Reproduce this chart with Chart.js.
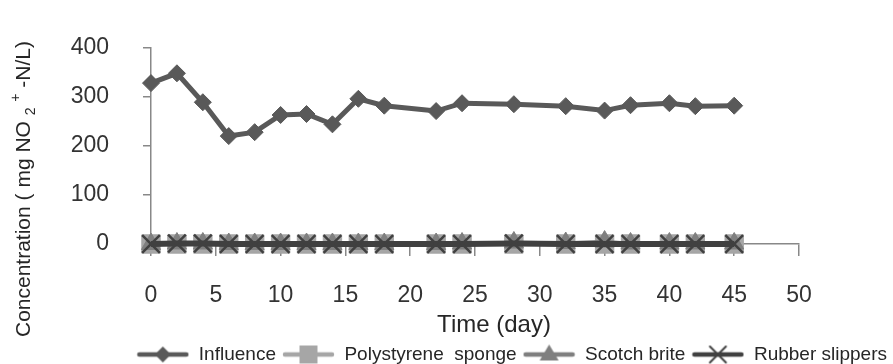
<!DOCTYPE html>
<html><head><meta charset="utf-8">
<script src="https://cdn.jsdelivr.net/npm/chart.js@4.4.1/dist/chart.umd.min.js"></script>
<style>html,body{margin:0;padding:0;background:#fff;} canvas{display:block;}</style>
</head><body>
<canvas id="c" width="893" height="364"></canvas>
<script>
// ---- data ----
const days = [0,2,4,6,8,10,12,14,16,18,22,24,28,32,35,37,40,42,45];
const influence      = [328,348,289,220,228,263,265,244,296,282,271,287,285,281,272,283,287,281,282];
const polystyrene    = [0,0,0,0,0,0,0,0,0,0,0,0,0,0,0,0,0,0,0];
const scotchBrite    = [0,1,1,0,0,0,0,0,0,0,0,1,3,2,5,1,1,1,1];
const rubberSlippers = [0,1,1,0,0,0,0,0,0,0,0,0,1,0,0,0,0,0,0];
const seriesNames = ['Influence','Polystyrene  sponge','Scotch brite','Rubber slippers'];
const xTicks = [0,5,10,15,20,25,30,35,40,45,50];
const yTicks = [0,100,200,300,400];
const xTitle = 'Time (day)';
const yTitleParts = ['Concentration ( mg NO ', '2', ' ', '+', ' -N/L)'];

const FAMILY = '"Liberation Sans", Arial, sans-serif';
Chart.defaults.font.family = FAMILY;

const colors = ['#595959','#a6a6a6','#7f7f7f','#404040'];
const lineWidths = [5, 3.5, 3.5, 6];

function pts(vals){ return days.map((d,i)=>({x:d, y:vals[i]})); }

// legend sample images (line + marker)
function marker(g, style, x, y, r, color, lw){
  g.fillStyle = color; g.strokeStyle = color; g.lineWidth = lw;
  g.beginPath();
  if (style==='diamond'){ g.moveTo(x-r,y); g.lineTo(x,y-r); g.lineTo(x+r,y); g.lineTo(x,y+r); g.closePath(); g.fill(); }
  else if (style==='square'){ g.rect(x-r,y-r,2*r,2*r); g.fill(); }
  else if (style==='triangle'){ g.moveTo(x,y-r); g.lineTo(x+r*0.95,y+r*0.6); g.lineTo(x-r*0.95,y+r*0.6); g.closePath(); g.fill(); }
  else if (style==='x'){ g.moveTo(x-r,y-r); g.lineTo(x+r,y+r); g.moveTo(x+r,y-r); g.lineTo(x-r,y+r); g.stroke(); }
}
function legendImg(i, style, r){
  const W=53, H=24, c=document.createElement('canvas'); c.width=W; c.height=H;
  const g=c.getContext('2d');
  g.strokeStyle=colors[i]; g.lineWidth=4.5; g.lineCap='round';
  g.beginPath(); g.moveTo(3,H/2); g.lineTo(W-3,H/2); g.stroke();
  marker(g, style, W/2, H/2, r, colors[i], 2);
  return c;
}
const legendImages = [legendImg(0,'diamond',8), legendImg(1,'square',9), legendImg(2,'triangle',10), legendImg(3,'x',8)];

const titlePlugin = {
  id: 'axisTitles',
  afterDraw(chart){
    const ctx = chart.ctx, a = chart.chartArea;
    ctx.save();
    ctx.fillStyle = '#262626';
    ctx.font = '24px ' + FAMILY;
    ctx.textAlign = 'center'; ctx.textBaseline = 'alphabetic';
    ctx.fillText(xTitle, (a.left + a.right)/2 + 19, 332);
    // rotated y title with sub/superscript
    const main = '21px ' + FAMILY, small = '14px ' + FAMILY;
    const fonts = [main, small, main, small, main];
    const dys = [0, 5, 0, -10, 0];
    let total = 0; const ws = [];
    yTitleParts.forEach((t,k)=>{ ctx.font = fonts[k]; const w = ctx.measureText(t).width; ws.push(w); total += w; });
    ctx.translate(30, 189); ctx.rotate(-Math.PI/2);
    ctx.textAlign = 'left';
    let x = -total/2;
    yTitleParts.forEach((t,k)=>{ ctx.font = fonts[k]; ctx.fillText(t, x, dys[k]); x += ws[k]; });
    ctx.restore();
  }
};

const axisColor = '#888888';
const tickFont = {size: 23, family: FAMILY};

new Chart(document.getElementById('c').getContext('2d'), {
  type: 'line',
  data: { datasets: [
    { label: seriesNames[0], data: pts(influence), borderColor: colors[0], backgroundColor: colors[0],
      borderWidth: lineWidths[0], pointStyle: 'rectRot', pointRadius: 8.5, pointBorderWidth: 1,
      pointBackgroundColor: colors[0], pointBorderColor: colors[0], order: 3, clip: false, yAxisID: 'y' },
    { label: seriesNames[1], data: pts(polystyrene), borderColor: colors[1], backgroundColor: colors[1],
      borderWidth: lineWidths[1], pointStyle: 'rect', pointRadius: 13, pointBorderWidth: 1,
      pointBackgroundColor: colors[1], pointBorderColor: colors[1], order: 2, clip: false, yAxisID: 'y' },
    { label: seriesNames[2], data: pts(scotchBrite), borderColor: colors[2], backgroundColor: colors[2],
      borderWidth: lineWidths[2], pointStyle: 'triangle', pointRadius: 11, pointBorderWidth: 1,
      pointBackgroundColor: colors[2], pointBorderColor: colors[2], order: 1, clip: false, yAxisID: 'y' },
    { label: seriesNames[3], data: pts(rubberSlippers), borderColor: colors[3], backgroundColor: colors[3],
      borderWidth: lineWidths[3], pointStyle: 'crossRot', pointRadius: 12.5, pointBorderWidth: 2.5,
      pointBackgroundColor: colors[3], pointBorderColor: colors[3], order: 0, clip: false, yAxisID: 'y' }
  ]},
  options: {
    responsive: false, animation: false, devicePixelRatio: 1,
    layout: { padding: { top: 28, left: 0, right: 0, bottom: -10 } },
    plugins: {
      tooltip: { enabled: false },
      legend: {
        position: 'bottom', align: 'end',
        labels: {
          usePointStyle: true, pointStyleWidth: 53, padding: 6,
          font: { size: 19, family: FAMILY }, color: '#262626',
          generateLabels(chart){
            return chart.data.datasets.map((ds,i)=>({
              text: ds.label, fillStyle: colors[i], strokeStyle: colors[i], lineWidth: 0,
              pointStyle: legendImages[i], hidden: false, datasetIndex: i, fontColor: '#262626'
            }));
          }
        }
      }
    },
    scales: {
      y: {
        type: 'linear', position: 'left', min: 0, max: 400,
        afterBuildTicks(s){ s.ticks = yTicks.map(v=>({value:v})); },
        ticks: { font: tickFont, color: '#333333', padding: 34 },
        grid: { drawOnChartArea: false, drawTicks: true, tickLength: 8, color: axisColor, lineWidth: 1.5 },
        border: { display: true, color: axisColor, width: 1.5 },
        afterFit(s){ s.width = 151; }
      },
      x: {
        type: 'linear', position: 'bottom', min: 0, max: 50,
        afterBuildTicks(s){ s.ticks = xTicks.map(v=>({value:v})); },
        ticks: { font: tickFont, color: '#333333', padding: 26, maxRotation: 0 },
        grid: { drawOnChartArea: false, drawTicks: true, tickLength: 12, color: axisColor, lineWidth: 1.5 },
        border: { display: true, color: axisColor, width: 1.5 },
        afterFit(s){ s.height = 95; }
      },
      yR: {
        type: 'linear', position: 'right', display: true,
        grid: { display: false }, border: { display: false }, ticks: { display: false },
        afterFit(s){ s.width = 94; }
      }
    }
  },
  plugins: [titlePlugin]
});
</script>
</body></html>
